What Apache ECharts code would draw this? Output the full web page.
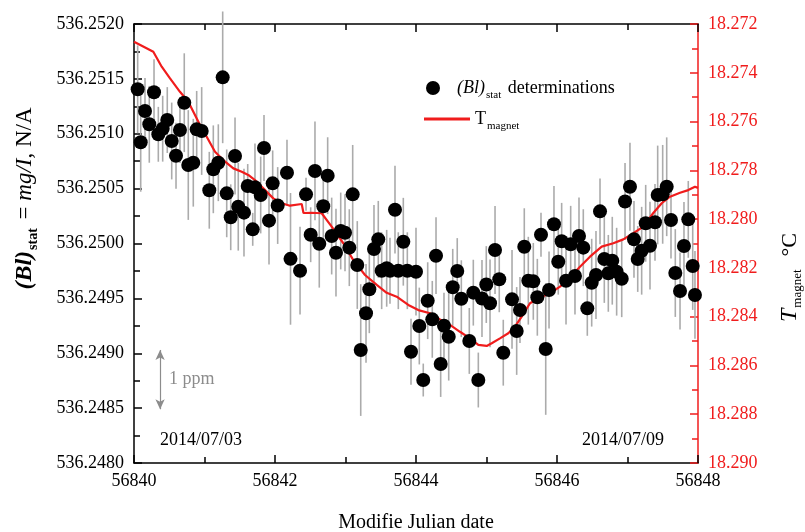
<!DOCTYPE html>
<html>
<head>
<meta charset="utf-8">
<script src="https://cdn.jsdelivr.net/npm/echarts@6/dist/echarts.min.js"></script>
<style>
  html, body { margin: 0; padding: 0; background: #fff; }
  #chart { width: 805px; height: 532px; }
</style>
</head>
<body>
<div id="chart"></div>
<script>
// (Bl)stat determinations: modified julian date, value, error bar half-length
const mjd = [
  56840.052, 56840.095, 56840.156, 56840.217, 56840.284, 56840.345, 56840.407, 56840.472,
  56840.535, 56840.596, 56840.652, 56840.713, 56840.770, 56840.841, 56840.889, 56840.960,
  56841.068, 56841.125, 56841.196, 56841.258, 56841.315, 56841.372, 56841.433, 56841.479,
  56841.560, 56841.613, 56841.684, 56841.716, 56841.797, 56841.844, 56841.915, 56841.967,
  56842.038, 56842.170, 56842.220, 56842.355, 56842.440, 56842.506, 56842.567, 56842.628,
  56842.685, 56842.747, 56842.804, 56842.865, 56842.932, 56842.993, 56843.054, 56843.102,
  56843.167, 56843.216, 56843.291, 56843.338, 56843.404, 56843.465, 56843.513, 56843.584,
  56843.631, 56843.702, 56843.749, 56843.820, 56843.877, 56843.929, 56844.000, 56844.047,
  56844.103, 56844.166, 56844.231, 56844.284, 56844.350, 56844.397, 56844.464, 56844.521,
  56844.585, 56844.643, 56844.756, 56844.813, 56844.884, 56844.936, 56844.997, 56845.050,
  56845.121, 56845.181, 56845.238, 56845.362, 56845.428, 56845.475, 56845.536, 56845.593,
  56845.664, 56845.721, 56845.773, 56845.840, 56845.887, 56845.957, 56846.018, 56846.066,
  56846.128, 56846.194, 56846.255, 56846.312, 56846.373, 56846.430, 56846.492, 56846.553,
  56846.610, 56846.671, 56846.728, 56846.784, 56846.846, 56846.918, 56846.965, 56847.035,
  56847.092, 56847.145, 56847.201, 56847.258, 56847.319, 56847.390, 56847.428, 56847.499,
  56847.556, 56847.617, 56847.678, 56847.745, 56847.801, 56847.862, 56847.925, 56847.957
];
const blStat = [
  536.251405, 536.250922, 536.251207, 536.251086, 536.251378, 536.250995, 536.251046, 536.251125,
  536.250934, 536.250800, 536.251034, 536.251283, 536.250715, 536.250736, 536.251040, 536.251025,
  536.250485, 536.250676, 536.250736, 536.251514, 536.250457, 536.250239, 536.250797, 536.250335,
  536.250281, 536.250524, 536.250129, 536.250512, 536.250442, 536.250870, 536.250208, 536.250548,
  536.250346, 536.250645, 536.249860, 536.249752, 536.250448, 536.250080, 536.250661, 536.249998,
  536.250339, 536.250618, 536.250068, 536.249916, 536.250114, 536.250098, 536.249962, 536.250448,
  536.249804, 536.249029, 536.249364, 536.249583, 536.249950, 536.250038, 536.249752, 536.249774,
  536.249752, 536.250308, 536.249752, 536.250016, 536.249752, 536.249014, 536.249743, 536.249248,
  536.248756, 536.249479, 536.249309, 536.249889, 536.248902, 536.249251, 536.249151, 536.249601,
  536.249749, 536.249497, 536.249112, 536.249552, 536.248756, 536.249499, 536.249626, 536.249455,
  536.249941, 536.249674, 536.249005, 536.249491, 536.249203, 536.249394, 536.249971, 536.249661,
  536.249655, 536.249510, 536.250080, 536.249039, 536.249576, 536.250175, 536.249834, 536.250020,
  536.249661, 536.249993, 536.249704, 536.250068, 536.249962, 536.249409, 536.249643, 536.249713,
  536.250293, 536.249859, 536.249728, 536.249843, 536.249743, 536.249679, 536.250383, 536.250517,
  536.250038, 536.249859, 536.249934, 536.250184, 536.249980, 536.250193, 536.250442, 536.250448,
  536.250517, 536.250214, 536.249731, 536.249567, 536.249977, 536.250220, 536.249795, 536.249531
];
const blErr = [
  0.00040, 0.00045, 0.00030, 0.00035, 0.00030, 0.00025, 0.00030, 0.00030,
  0.00035, 0.00030, 0.00030, 0.00045, 0.00050, 0.00040, 0.00035, 0.00040,
  0.00035, 0.00040, 0.00035, 0.00060, 0.00040, 0.00030, 0.00035, 0.00040,
  0.00040, 0.00020, 0.00015, 0.00040, 0.00035, 0.00030, 0.00040, 0.00030,
  0.00035, 0.00030, 0.00060, 0.00040, 0.00015, 0.00025, 0.00045, 0.00040,
  0.00030, 0.00035, 0.00035, 0.00040, 0.00035, 0.00035, 0.00035, 0.00045,
  0.00040, 0.00060, 0.00045, 0.00040, 0.00040, 0.00035, 0.00035, 0.00035,
  0.00030, 0.00040, 0.00035, 0.00040, 0.00035, 0.00030, 0.00040, 0.00035,
  0.00015, 0.00035, 0.00035, 0.00035, 0.00030, 0.00030, 0.00040, 0.00035,
  0.00030, 0.00035, 0.00030, 0.00030, 0.00025, 0.00035, 0.00035, 0.00040,
  0.00040, 0.00030, 0.00030, 0.00045, 0.00040, 0.00030, 0.00035, 0.00040,
  0.00035, 0.00035, 0.00020, 0.00060, 0.00035, 0.00035, 0.00030, 0.00035,
  0.00040, 0.00035, 0.00035, 0.00035, 0.00035, 0.00025, 0.00040, 0.00040,
  0.00030, 0.00040, 0.00035, 0.00040, 0.00040, 0.00035, 0.00035, 0.00040,
  0.00035, 0.00030, 0.00040, 0.00035, 0.00040, 0.00035, 0.00045, 0.00045,
  0.00045, 0.00035, 0.00040, 0.00035, 0.00040, 0.00035, 0.00040, 0.00040
];

// magnet temperature trace
const tMjd = [
  56840.000, 56840.274, 56840.393, 56840.511, 56840.652, 56840.770, 56840.865, 56840.936,
  56841.031, 56841.149, 56841.267, 56841.409, 56841.528, 56841.621, 56841.716, 56841.834,
  56841.976, 56842.095, 56842.213, 56842.379, 56842.404, 56842.521, 56842.662, 56842.804,
  56842.969, 56843.111, 56843.277, 56843.443, 56843.584, 56843.726, 56843.891, 56844.033,
  56844.199, 56844.340, 56844.482, 56844.624, 56844.766, 56844.884, 56845.003, 56845.074,
  56845.191, 56845.309, 56845.404, 56845.499, 56845.617, 56845.759, 56845.901, 56846.043,
  56846.184, 56846.326, 56846.468, 56846.634, 56846.799, 56846.940, 56847.082, 56847.224,
  56847.366, 56847.485, 56847.603, 56847.745, 56847.862, 56847.957, 56848.000
];
const tMagnet = [
  18.27273, 18.27314, 18.27375, 18.27423, 18.27478, 18.27519, 18.27573, 18.27614,
  18.27662, 18.27724, 18.27758, 18.27792, 18.27806, 18.27819, 18.27840, 18.27874,
  18.27915, 18.27935, 18.27945, 18.27938, 18.27975, 18.27974, 18.27976, 18.28031,
  18.28099, 18.28168, 18.28229, 18.28270, 18.28302, 18.28318, 18.28352, 18.28373,
  18.28386, 18.28411, 18.28434, 18.28462, 18.28489, 18.28516, 18.28520, 18.28509,
  18.28489, 18.28468, 18.28441, 18.28400, 18.28345, 18.28321, 18.28304, 18.28277,
  18.28239, 18.28195, 18.28154, 18.28113, 18.28099, 18.28083, 18.28058, 18.28031,
  18.27975, 18.27935, 18.27908, 18.27892, 18.27881, 18.27867, 18.27872
];

// 1 ppm scale arrow
const ppmX = 56840.37;
const ppmLo = 536.24849;
const ppmHi = 536.24903;

const FONT = "Liberation Serif";
const RED = "#f01c1c";

const chart = echarts.init(document.getElementById("chart"));

const axisBase = {
  axisLine: { show: true, lineStyle: { color: "#000", width: 1.5 } },
  axisTick: { show: true, inside: true, length: 8, lineStyle: { color: "#000", width: 1.5 } },
  minorTick: { show: true, splitNumber: 2, length: 6, lineStyle: { color: "#000", width: 1.5 } },
  splitLine: { show: false },
};

chart.setOption({
  animation: false,
  grid: { left: 134, right: 107, top: 24, bottom: 69, containLabel: false, outerBoundsMode: "none" },
  textStyle: { fontFamily: FONT },
  legend: [
    {
      data: ["stat"],
      left: 426,
      top: 79,
      padding: 0,
      itemWidth: 14,
      itemHeight: 14,
      icon: "circle",
      formatter: () => "{i|(Bl)}{s|stat} determinations",
      textStyle: {
        fontFamily: FONT,
        fontSize: 18,
        color: "#000",
        rich: {
          i: { fontFamily: FONT, fontSize: 18, fontStyle: "italic", padding: [0, 0, 0, 12] },
          s: { fontFamily: FONT, fontSize: 11, padding: [14, 2, 0, 1] },
        },
      },
    },
    {
      data: ["magnet"],
      left: 424,
      top: 110,
      padding: 0,
      itemWidth: 46,
      itemHeight: 3,
      icon: "rect",
      formatter: () => "T{s|magnet}",
      textStyle: {
        fontFamily: FONT,
        fontSize: 18,
        color: "#000",
        rich: {
          s: { fontFamily: FONT, fontSize: 11, padding: [14, 0, 0, 1] },
        },
      },
    },
  ],
  xAxis: [
    {
      ...axisBase,
      type: "value",
      min: 56840,
      max: 56848,
      interval: 2,
      name: "Modifie Julian date",
      nameLocation: "middle",
      nameGap: 50,
      nameTextStyle: { fontFamily: FONT, fontSize: 20, color: "#000" },
      axisLabel: {
        fontFamily: FONT,
        fontSize: 18,
        color: "#000",
        margin: 9,
        formatter: (v) => String(v),
      },
    },
    {
      ...axisBase,
      type: "value",
      position: "top",
      min: 56840,
      max: 56848,
      interval: 2,
      axisLabel: { show: false },
    },
  ],
  yAxis: [
    {
      ...axisBase,
      type: "value",
      min: 536.248,
      max: 536.252,
      interval: 0.0005,
      name: "{b|(Bl)}{s|stat}{n| = }{i|mg/I}{n|, N/A}",
      nameLocation: "middle",
      nameGap: 94,
      nameRotate: 90,
      nameTextStyle: {
        color: "#000",
        padding: [0, 0, 0, 90],
        rich: {
          b: { fontFamily: FONT, fontSize: 24, fontWeight: "bold", fontStyle: "italic" },
          s: { fontFamily: FONT, fontSize: 14, fontWeight: "bold", padding: [16, 3, 0, 1] },
          n: { fontFamily: FONT, fontSize: 23 },
          i: { fontFamily: FONT, fontSize: 23, fontStyle: "italic" },
        },
      },
      axisLabel: {
        fontFamily: FONT,
        fontSize: 18,
        color: "#000",
        margin: 10,
        formatter: (v) => v.toFixed(4),
      },
    },
    {
      ...axisBase,
      type: "value",
      position: "right",
      inverse: true,
      min: 18.272,
      max: 18.29,
      interval: 0.002,
      axisLine: { show: true, lineStyle: { color: RED, width: 1.5 } },
      axisTick: { show: true, inside: true, length: 8, lineStyle: { color: RED, width: 1.5 } },
      minorTick: { show: true, splitNumber: 2, length: 6, lineStyle: { color: RED, width: 1.5 } },
      name: "{i|T}{s|magnet}{n|  °C}",
      nameLocation: "middle",
      nameGap: 78,
      nameRotate: 90,
      nameTextStyle: {
        color: "#000",
        padding: [0, 68, 0, 0],
        rich: {
          i: { fontFamily: FONT, fontSize: 24, fontStyle: "italic" },
          s: { fontFamily: FONT, fontSize: 13, padding: [15, 2, 0, 1] },
          n: { fontFamily: FONT, fontSize: 22 },
        },
      },
      axisLabel: {
        fontFamily: FONT,
        fontSize: 18,
        color: RED,
        margin: 10,
        formatter: (v) => v.toFixed(3),
      },
    },
  ],
  graphic: [
    {
      type: "text",
      left: 160,
      top: 431,
      style: { text: "2014/07/03", font: "18px 'Liberation Serif'", fill: "#000" },
    },
    {
      type: "text",
      left: 582,
      top: 431,
      style: { text: "2014/07/09", font: "18px 'Liberation Serif'", fill: "#000" },
    },
    {
      type: "text",
      left: 169,
      top: 370,
      style: { text: "1 ppm", font: "18px 'Liberation Serif'", fill: "#8c8c8c" },
    },
  ],
  series: [
    {
      name: "err",
      type: "custom",
      xAxisIndex: 0,
      yAxisIndex: 0,
      clip: false,
      z: 1,
      silent: true,
      data: mjd.map((d, i) => [d, blStat[i] - blErr[i], blStat[i] + blErr[i]]),
      encode: { x: 0, y: [1, 2] },
      renderItem: (params, api) => {
        const lo = api.coord([api.value(0), api.value(1)]);
        const hi = api.coord([api.value(0), api.value(2)]);
        return {
          type: "line",
          shape: { x1: lo[0], y1: lo[1], x2: hi[0], y2: hi[1] },
          style: { stroke: "#ababab", lineWidth: 1.6 },
        };
      },
    },
    {
      name: "magnet",
      type: "line",
      xAxisIndex: 0,
      yAxisIndex: 1,
      z: 2,
      symbol: "none",
      data: tMjd.map((d, i) => [d, tMagnet[i]]),
      lineStyle: { color: RED, width: 2.2 },
      itemStyle: { color: RED },
    },
    {
      name: "stat",
      type: "scatter",
      xAxisIndex: 0,
      yAxisIndex: 0,
      z: 3,
      symbolSize: 14,
      itemStyle: { color: "#000", opacity: 1 },
      data: mjd.map((d, i) => [d, blStat[i]]),
      markLine: {
        silent: true,
        symbol: ["arrow", "arrow"],
        symbolSize: [7, 10],
        label: { show: false },
        lineStyle: { color: "#8c8c8c", type: "solid", width: 1.2 },
        data: [[{ coord: [ppmX, ppmLo] }, { coord: [ppmX, ppmHi] }]],
      },
    },
  ],
});
</script>
</body>
</html>
